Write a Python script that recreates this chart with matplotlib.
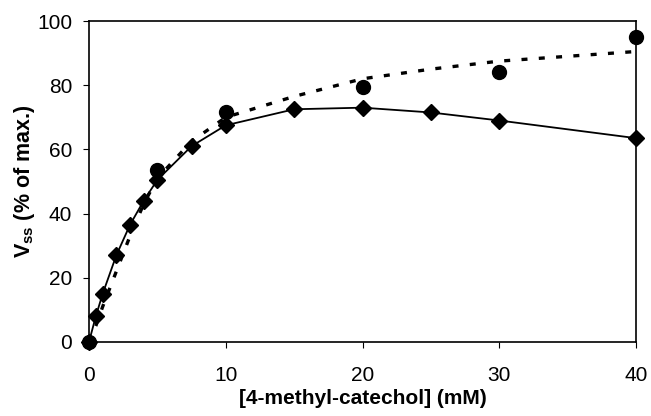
import matplotlib
matplotlib.use("Agg")
import matplotlib.pyplot as plt

plt.rcParams["font.family"] = ["Liberation Sans", "DejaVu Sans"]
plt.rcParams["mathtext.fontset"] = "custom"
plt.rcParams["mathtext.rm"] = "Liberation Sans"
plt.rcParams["mathtext.bf"] = "Liberation Sans:bold"

# diamonds (solid line)
conc_d = [0, 0.5, 1, 2, 3, 4, 5, 7.5, 10, 15, 20, 25, 30, 40]
vss_d = [0, 8, 15, 27, 36.5, 44, 50.5, 61, 67.5, 72.5, 73, 71.5, 69, 63.5]

# circles
conc_c = [0, 5, 10, 20, 30, 40]
vss_c = [0, 53.5, 71.5, 79.5, 84, 95]

# dashed fit curve
conc_fit = [0, 0.5, 1, 2, 3, 4, 5, 7.5, 10, 15, 20, 25, 30, 35, 40]
vss_fit = [0, 5, 11, 22, 33, 43, 51, 62.5, 70, 76.5, 82, 85, 87.5, 89, 90.5]

fig = plt.figure(figsize=(6.51, 4.16), dpi=100)
ax = fig.add_axes([0.1367, 0.178, 0.8403, 0.7715])

ax.plot(conc_fit, vss_fit, color="black", linewidth=2.4, linestyle=(0, (1.8, 3.4)))
ax.plot(conc_d, vss_d, color="black", linewidth=1.3, marker="D", markersize=8,
        clip_on=False, zorder=3)
ax.plot(conc_c, vss_c, color="black", linestyle="none", marker="o", markersize=10,
        clip_on=False, zorder=4)

ax.set_xlim(0, 40)
ax.set_ylim(0, 100)
ax.set_xticks([0, 10, 20, 30, 40])
ax.set_yticks([0, 20, 40, 60, 80, 100])
ax.tick_params(labelsize=15, length=4, width=0.8, direction="out")
ax.tick_params(axis="x", pad=13)
ax.tick_params(axis="y", pad=8)
for s in ax.spines.values():
    s.set_linewidth(1.2)

ax.set_xlabel("[4-methyl-catechol] (mM)", fontsize=15, fontweight="bold", labelpad=3)
ax.set_ylabel(r"$\mathbf{V_{ss}}$ (% of max.)", fontsize=15.5, fontweight="bold", labelpad=0)

fig.savefig("out.png", dpi=100)
